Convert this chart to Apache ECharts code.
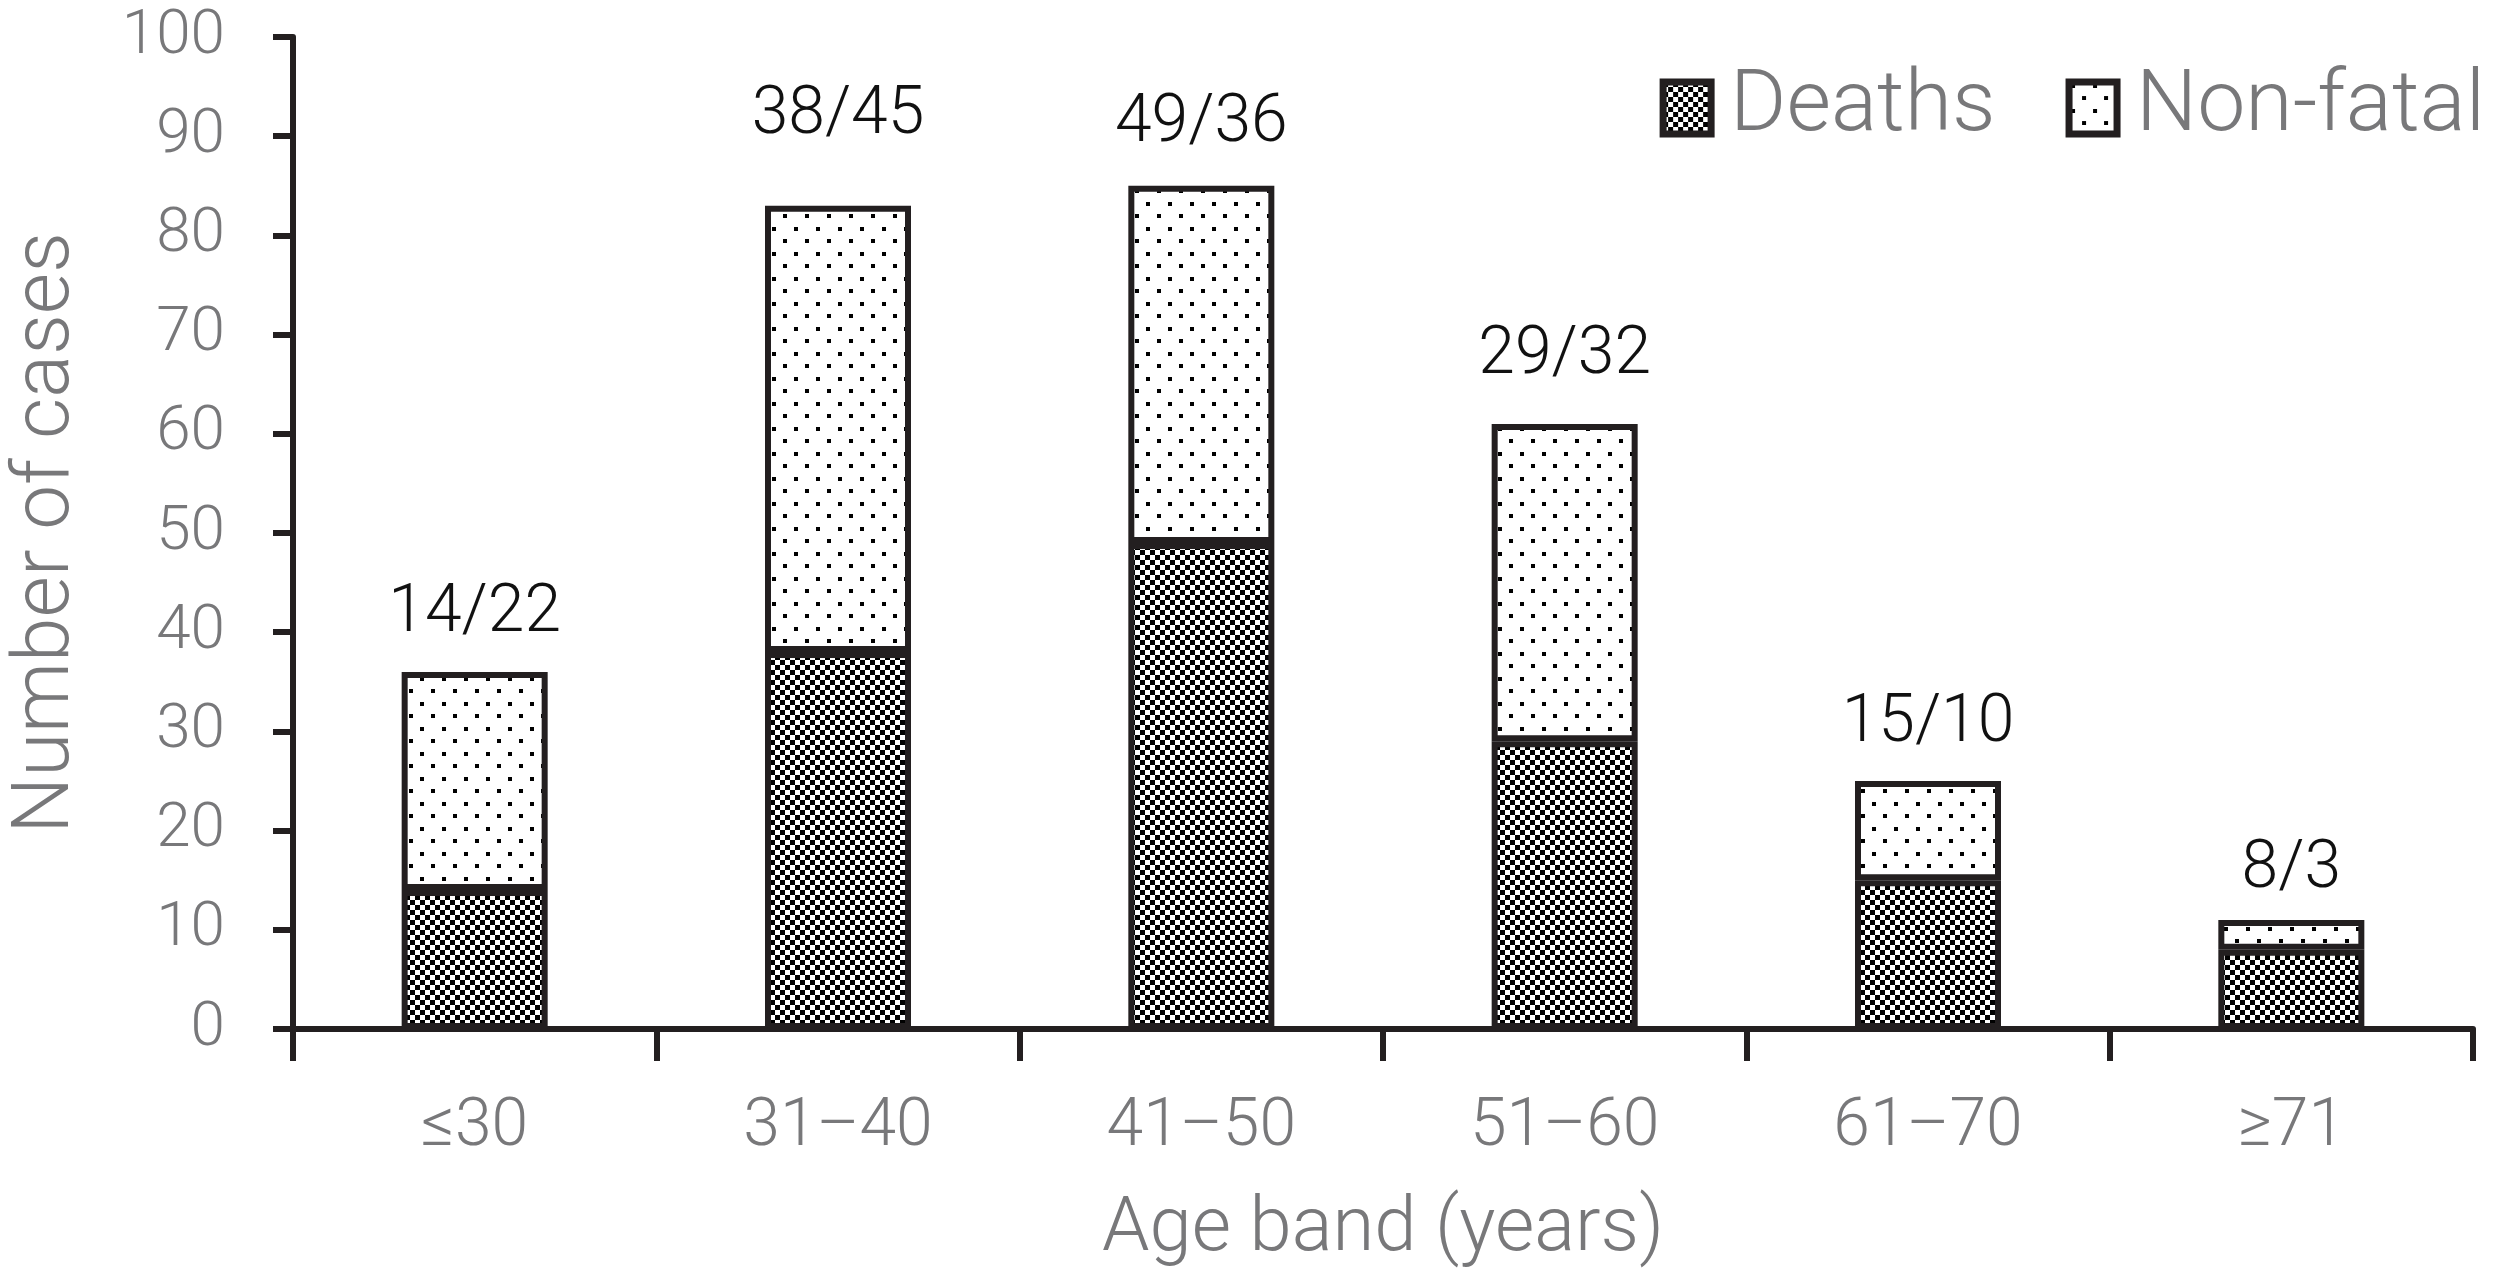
<!DOCTYPE html>
<html><head><meta charset="utf-8">
<script src="https://cdn.jsdelivr.net/npm/echarts@6/dist/echarts.min.js"></script>
<style>html,body{margin:0;padding:0;background:#fff}#c{width:2500px;height:1274px}</style>
</head><body><div id="c"></div>
<script>
const categories = ['≤30', '31–40', '41–50', '51–60', '61–70', '≥71'];
const deaths = [14, 38, 49, 29, 15, 8];
const nonFatal = [22, 45, 36, 32, 10, 3];
const yTicks = [0, 10, 20, 30, 40, 50, 60, 70, 80, 90, 100];
// label gap above each bar (style only, px)
const labelGap = [24, 56, 28, 34, 24, 16];

function checker() {
  const c = document.createElement('canvas'); c.width = 10; c.height = 10;
  const g = c.getContext('2d');
  g.fillStyle = '#fff'; g.fillRect(0, 0, 10, 10);
  g.fillStyle = '#000'; g.fillRect(0, 0, 5, 5); g.fillRect(5, 5, 5, 5);
  return c;
}
function dots() {
  const c = document.createElement('canvas'); c.width = 22; c.height = 25;
  const g = c.getContext('2d');
  g.fillStyle = '#fff'; g.fillRect(0, 0, 22, 25);
  g.fillStyle = '#000'; g.fillRect(2, 2, 4, 4); g.fillRect(13, 14, 4, 4);
  return c;
}
const FONT = 'Roboto';
const GREY = '#78787a';
const INK = '#231f20';

const chart = echarts.init(document.getElementById('c'));
chart.setOption({
  animation: false,
  backgroundColor: '#fff',
  textStyle: { fontFamily: FONT, fontWeight: 300 },
  legend: {
    right: 10, top: 60, itemWidth: 48, itemHeight: 52, itemGap: 70,
    icon: 'rect',
    itemStyle: { borderColor: INK, borderWidth: 7 },
    textStyle: { fontSize: 86, color: GREY, fontFamily: FONT, fontWeight: 300, padding: [0, 0, 0, 14] },
    data: ['Deaths', 'Non-fatal']
  },
  grid: { left: 288, right: 27, top: 37, bottom: 244 },
  xAxis: {
    type: 'category', data: categories,
    name: 'Age band (years)', nameLocation: 'middle', nameGap: 164,
    nameTextStyle: { fontSize: 76, color: GREY, fontFamily: FONT, fontWeight: 300 },
    axisLine: { lineStyle: { color: INK, width: 6 } },
    axisTick: { show: true, length: 32, lineStyle: { color: INK, width: 6 } },
    axisLabel: { fontSize: 66, color: GREY, margin: 66, fontFamily: FONT, fontWeight: 300 }
  },
  yAxis: {
    type: 'value', min: yTicks[0], max: yTicks[yTicks.length - 1], interval: 10,
    name: 'Number of cases', nameLocation: 'middle', nameGap: 205, nameRotate: 90,
    nameTextStyle: { fontSize: 80, color: GREY, fontFamily: FONT, fontWeight: 300 },
    splitLine: { show: false },
    axisLine: { show: true, lineStyle: { color: INK, width: 6 } },
    axisTick: { show: true, length: 20, lineStyle: { color: INK, width: 6 } },
    axisLabel: { fontSize: 62, color: GREY, margin: 68, fontFamily: FONT, fontWeight: 300 }
  },
  series: [
    {
      name: 'Deaths', type: 'bar', stack: 'a', barWidth: 146, data: deaths,
      itemStyle: { color: { image: checker(), repeat: 'repeat' }, borderColor: INK, borderWidth: 6 }
    },
    {
      name: 'Non-fatal', type: 'bar', stack: 'a', barWidth: 146,
      data: nonFatal.map((v, i) => ({ value: v, label: { distance: labelGap[i] } })),
      itemStyle: { color: { image: dots(), repeat: 'repeat' }, borderColor: INK, borderWidth: 6 },
      label: {
        show: true, position: 'top', fontSize: 66, color: '#111',
        fontFamily: FONT, fontWeight: 300,
        formatter: p => deaths[p.dataIndex] + '/' + nonFatal[p.dataIndex]
      }
    }
  ]
});
</script></body></html>
